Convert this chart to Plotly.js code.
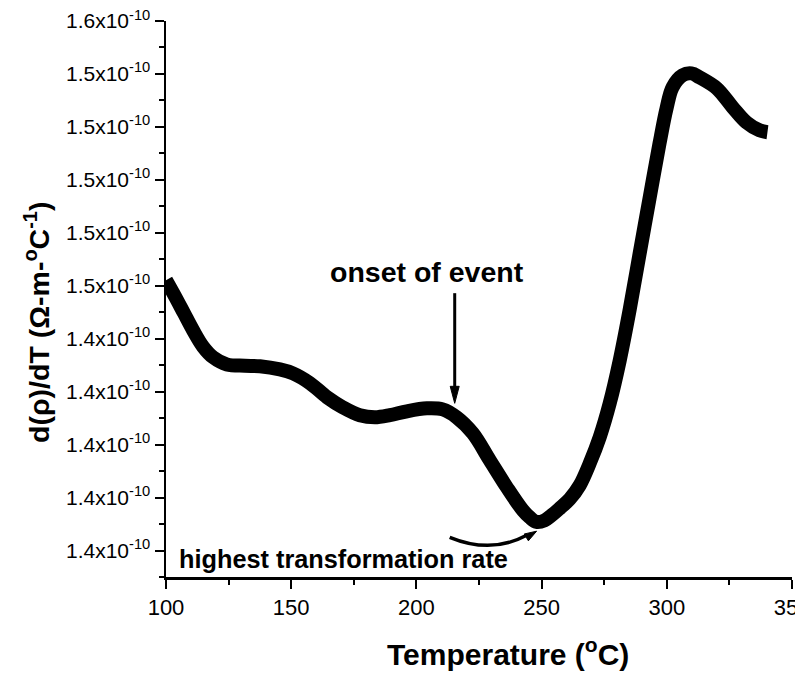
<!DOCTYPE html>
<html>
<head>
<meta charset="utf-8">
<script src="https://cdn.plot.ly/plotly-3.0.1.min.js"></script>
<style>
  html, body { margin: 0; padding: 0; background: #fff; }
  #chart { width: 795px; height: 674px; }
</style>
</head>
<body>
<div id="chart"></div>
<script>
// Temperature (°C) and derivative of resistivity (units of 1e-10 Ω·m/°C)
const temperature = [100, 103.6, 107.2, 110.8, 114.8, 118.8, 124.3, 131.5, 137.5, 145.5,
  150.7, 157.5, 164.3, 170.6, 177.4, 183.4, 189.4, 196.2, 204.2, 210.5,
  216.1, 222.5, 229.3, 236.1, 242.5, 245.3, 248.0, 251.2, 254.0, 257.2,
  261.2, 265.2, 269.2, 273.2, 277.2, 281.2, 285.2, 289.1, 293.1, 297.1,
  299.9, 302.3, 306.3, 309.9, 313.1, 319.9, 326.3, 331.8, 337.0, 340.2];
const dRhoDT = [1.4621, 1.4560, 1.4496, 1.4432, 1.4370, 1.4330, 1.4303, 1.4298, 1.4296, 1.4284,
  1.4269, 1.4232, 1.4179, 1.4141, 1.4111, 1.4103, 1.4111, 1.4126, 1.4137, 1.4133,
  1.4103, 1.4043, 1.3941, 1.3839, 1.3752, 1.3725, 1.3708, 1.3714, 1.3733, 1.3759,
  1.3794, 1.3846, 1.3929, 1.4028, 1.4156, 1.4318, 1.4511, 1.4719, 1.4930, 1.5138,
  1.5270, 1.5350, 1.5395, 1.5402, 1.5387, 1.5346, 1.5274, 1.5217, 1.5187, 1.5180];

// Y tick positions and their (one-decimal) labels
const yTickVals = [1.36, 1.38, 1.40, 1.42, 1.44, 1.46, 1.48, 1.50, 1.52, 1.54, 1.56];
const yTickLabels = ['1.4', '1.4', '1.4', '1.4', '1.4', '1.5', '1.5', '1.5', '1.5', '1.5', '1.6'];
const yMinorVals = [1.35, 1.37, 1.39, 1.41, 1.43, 1.45, 1.47, 1.49, 1.51, 1.53, 1.55];
const xTickVals = [100, 150, 200, 250, 300, 350];

const FONT = 'Liberation Sans, Arial, Helvetica, sans-serif';

const trace = {
  x: temperature,
  y: dRhoDT,
  type: 'scatter',
  mode: 'lines',
  line: { color: '#000', width: 14, shape: 'spline', smoothing: 1.0 },
  hoverinfo: 'skip'
};

const layout = {
  width: 795,
  height: 674,
  margin: { l: 166, r: 3, t: 21, b: 97 },
  paper_bgcolor: '#fff',
  plot_bgcolor: '#fff',
  showlegend: false,
  font: { family: FONT, color: '#000' },
  xaxis: {
    range: [100, 350],
    tickmode: 'array',
    tickvals: xTickVals,
    ticktext: xTickVals.map(String),
    ticklabeloverflow: 'allow',
    ticks: 'outside', ticklen: 9, tickwidth: 2, tickcolor: '#000',
    minor: { tickmode: 'linear', tick0: 125, dtick: 50, ticks: 'outside', ticklen: 5, tickwidth: 2, tickcolor: '#000' },
    showline: true, linecolor: '#000', linewidth: 2.5,
    showgrid: false, zeroline: false,
    tickfont: { family: FONT, size: 22, color: '#000' }
  },
  yaxis: {
    range: [1.35, 1.56],
    tickmode: 'array',
    tickvals: yTickVals,
    ticktext: yTickLabels.map(s => s + 'x10<sup>-10</sup>'),
    ticks: 'outside', ticklen: 9, tickwidth: 2, tickcolor: '#000',
    minor: { tickmode: 'array', tickvals: yMinorVals, ticks: 'outside', ticklen: 5, tickwidth: 2, tickcolor: '#000' },
    showline: true, linecolor: '#000', linewidth: 2.5,
    showgrid: false, zeroline: false,
    tickfont: { family: FONT, size: 21, color: '#000' }
  },
  annotations: [
    { xref: 'paper', yref: 'paper', x: 0.546, y: -0.135, xanchor: 'center', yanchor: 'middle',
      text: '<b>Temperature (<sup>o</sup>C)</b>', showarrow: false,
      font: { family: FONT, size: 30, color: '#000' } },
    { xref: 'paper', yref: 'paper', x: -0.206, y: 0.457, xanchor: 'center', yanchor: 'middle',
      textangle: -90,
      text: '<b>d(ρ)/dT (Ω-m-<sup>o</sup>C<sup>-1</sup>)</b>', showarrow: false,
      font: { family: FONT, size: 28.5, color: '#000' } },
    { xref: 'paper', yref: 'paper', x: 0.417, y: 0.5486, xanchor: 'center', yanchor: 'middle',
      text: '<b>onset of event</b>', showarrow: false,
      font: { family: FONT, size: 28.5, color: '#000' } },
    { xref: 'paper', yref: 'paper', x: 0.2843, y: 0.0324, xanchor: 'center', yanchor: 'middle',
      text: '<b>highest transformation rate</b>', showarrow: false,
      font: { family: FONT, size: 25.3, color: '#000' } }
  ],
  shapes: [
    // straight pointer to the onset of the event
    { type: 'line', xref: 'x', yref: 'y', x0: 215.3, x1: 215.3, y0: 1.4572, y1: 1.4198,
      line: { color: '#000', width: 3 } },
    { type: 'path', xref: 'x', yref: 'y', xsizemode: 'pixel', ysizemode: 'pixel',
      xanchor: 215.3, yanchor: 1.4156, path: 'M0,0 L-4.5,17 L4.5,17 Z',
      fillcolor: '#000', line: { color: '#000', width: 1 } },
    // curved pointer to the minimum
    { type: 'path', xref: 'x', yref: 'y',
      path: 'M213.3,1.3650 Q229.9,1.35857 244.05,1.36575',
      line: { color: '#000', width: 3.5 } },
    { type: 'path', xref: 'x', yref: 'y', xsizemode: 'pixel', ysizemode: 'pixel',
      xanchor: 248.0, yanchor: 1.3673, path: 'M0,0 L-12.4,-2.8 L-8.2,-9.6 Z',
      fillcolor: '#000', line: { color: '#000', width: 1 } }
  ]
};

Plotly.newPlot('chart', [trace], layout, { staticPlot: true, displayModeBar: false });
</script>
</body>
</html>
